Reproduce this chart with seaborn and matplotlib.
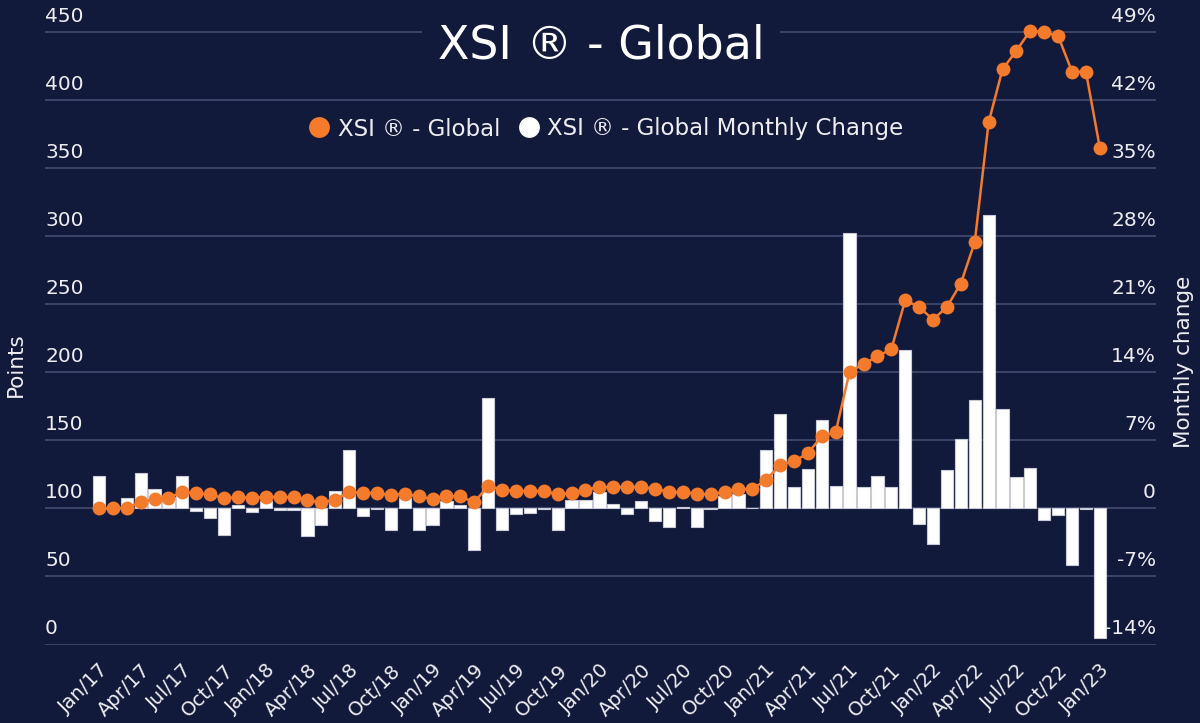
import numpy as np
import pandas as pd
import matplotlib
matplotlib.use("Agg")
import matplotlib.pyplot as plt
import matplotlib.transforms as mtransforms
from matplotlib.lines import Line2D
import seaborn as sns

# ---------------- data ----------------
months = pd.date_range("2017-01-01", periods=73, freq="MS")
index_points = [
    100, 100, 100.5, 104.4, 106.9, 107.8, 112, 111.3, 110.3, 107.4,
    108.3, 107.6, 108.6, 108.3, 108.3, 106.1, 104.4, 106.2, 112.3, 111.3,
    111.3, 109.8, 110.8, 108.8, 106.9, 109, 108.8, 104.4, 116.7, 113.7,
    112.7, 112.7, 112.7, 110.3, 111.3, 113.7, 115.7, 115.7, 115.7, 115.7,
    114.5, 112, 112, 110.8, 110.3, 112.3, 114.2, 114.2, 121.1, 132,
    134.5, 140.7, 152.9, 156.1, 200.5, 205.9, 211.8, 216.9, 252.9, 248,
    238.7, 248, 265.2, 295.6, 383.6, 422.6, 436.3, 451, 449.8, 447.1,
    420.8, 420.8, 364.9,
]
monthly_change_pct = [
    3.3, 0.05, 1.1, 3.6, 2.0, 1.2, 3.3, -0.3, -1.0, -2.7,
    0.35, -0.35, 0.8, -0.2, -0.2, -2.8, -1.7, 1.8, 6.0, -0.75,
    -0.1, -2.2, 1.1, -2.2, -1.7, 0.75, 0.35, -4.3, 11.4, -2.2,
    -0.6, -0.45, -0.1, -2.2, 0.9, 0.9, 1.7, 0.5, -0.6, 0.75,
    -1.3, -1.9, 0.15, -1.9, -0.1, 1.3, 1.5, 0.0, 6.0, 9.7,
    2.2, 4.1, 9.1, 2.3, 28.3, 2.2, 3.3, 2.2, 16.3, -1.65,
    -3.7, 3.9, 7.1, 11.2, 30.2, 10.2, 3.2, 4.2, -1.2, -0.7,
    -5.8, -0.1, -13.3,
]
x_tick_labels = [
    "Jan/17", "Apr/17", "Jul/17", "Oct/17", "Jan/18", "Apr/18", "Jul/18",
    "Oct/18", "Jan/19", "Apr/19", "Jul/19", "Oct/19", "Jan/20", "Apr/20",
    "Jul/20", "Oct/20", "Jan/21", "Apr/21", "Jul/21", "Oct/21", "Jan/22",
    "Apr/22", "Jul/22", "Oct/22", "Jan/23",
]
left_ticks = [0, 50, 100, 150, 200, 250, 300, 350, 400, 450]
right_ticks = [-14, -7, 0, 7, 14, 21, 28, 35, 42, 49]
right_tick_labels = ["-14%", "-7%", "0", "7%", "14%", "21%", "28%", "35%", "42%", "49%"]
title_text = "XSI ® - Global"
series_names = ["XSI ® - Global", "XSI ® - Global Monthly Change"]

# ---------------- style ----------------
BG = "#121a3c"
GRID = "#3c4569"
ORANGE = "#f47a2c"
TXT = "#eeeef2"

sns.set_style("dark", {"axes.facecolor": BG, "figure.facecolor": BG})
plt.rcParams["font.family"] = ["DejaVu Sans"]

df = pd.DataFrame({
    "month": months,
    "pos": np.arange(len(months)),
    "points": index_points,
    "pct": monthly_change_pct,
})

fig = plt.figure(figsize=(12, 7.23), dpi=100, facecolor=BG)
W, H = 1200, 723
ax_left, ax_right, ax_bottom, ax_top = 45, 1156, 644.5, 10
ax = fig.add_axes([ax_left / W, 1 - ax_bottom / H,
                   (ax_right - ax_left) / W, (ax_bottom - ax_top) / H])
ax.set_facecolor(BG)

# bars (monthly change, right scale)
sns.barplot(data=df, x="pos", y="pct", ax=ax, color="white", width=0.88,
            edgecolor="#c9ccd8", linewidth=0.8, saturation=1)

ax2 = ax.twinx()
sns.lineplot(data=df, x="pos", y="points", ax=ax2, color=ORANGE, marker="o",
             markersize=10, markeredgewidth=0, linewidth=1.8, legend=False)

# scales: 0 pts <-> -14%, 450 pts <-> 49%
px_per_pt = (ax_bottom - 32) / 450.0
top_pts = (ax_bottom - ax_top) / px_per_pt
ax2.set_ylim(0, top_pts)
ax.set_ylim(-14, (top_pts - 100) / 50 * 7)
xl = (-3.88, 76.04)
ax.set_xlim(*xl)
ax2.set_xlim(*xl)

for a in (ax, ax2):
    for s in a.spines.values():
        s.set_visible(False)
    a.set_xlabel("")
    a.set_ylabel("")

ax.set_yticks(right_ticks)
ax.yaxis.grid(True, color=GRID, linewidth=1.4)
ax.xaxis.grid(False)
ax.set_axisbelow(True)
ax.tick_params(axis="y", left=False, right=False, labelleft=False, labelright=False)
ax2.set_yticks(left_ticks)
ax2.grid(False)
ax2.tick_params(axis="y", left=False, right=False, labelleft=False, labelright=False)

ax.set_xticks(np.arange(0, len(months), 3))
ax.set_xticklabels(x_tick_labels, rotation=45, ha="right", rotation_mode="anchor",
                   fontsize=14, color=TXT)
ax.tick_params(axis="x", bottom=False, pad=8)
ax2.tick_params(axis="x", bottom=False, labelbottom=False)

# tick labels sitting above the gridlines
tr_left = mtransforms.offset_copy(ax2.get_yaxis_transform(), fig=fig, x=0, y=6, units="dots")
for v in left_ticks:
    ax2.text(0, v, str(v), transform=tr_left, ha="left", va="bottom",
             fontsize=14.5, color=TXT, clip_on=False)
tr_right = mtransforms.offset_copy(ax.get_yaxis_transform(), fig=fig, x=0, y=6, units="dots")
for v, lab in zip(right_ticks, right_tick_labels):
    ax.text(1, v, lab, transform=tr_right, ha="right", va="bottom",
            fontsize=14.5, color=TXT, clip_on=False)

fig.text(16 / W, 1 - 365 / H, "Points", rotation=90, ha="center", va="center",
         fontsize=15.5, color=TXT)
fig.text(1184 / W, 1 - 362 / H, "Monthly change", rotation=90, ha="center",
         va="center", fontsize=15.5, color=TXT)

fig.text(601 / W, 1 - 46 / H, title_text, ha="center", va="center",
         fontsize=33, color="white",
         bbox=dict(facecolor=BG, edgecolor="none", boxstyle="square,pad=0.35"))

handles = [
    Line2D([], [], marker="o", linestyle="None", color=ORANGE, markersize=15,
           markeredgewidth=0),
    Line2D([], [], marker="o", linestyle="None", color="white", markersize=15,
           markeredgewidth=0),
]
fig.legend(handles, series_names, loc="center", bbox_to_anchor=(606 / W, 1 - 129 / H),
           ncol=2, frameon=False, fontsize=16.5, labelcolor=TXT,
           handlelength=0.9, handletextpad=0.35, columnspacing=0.8)

fig.savefig("out.png", dpi=100, facecolor=BG)
